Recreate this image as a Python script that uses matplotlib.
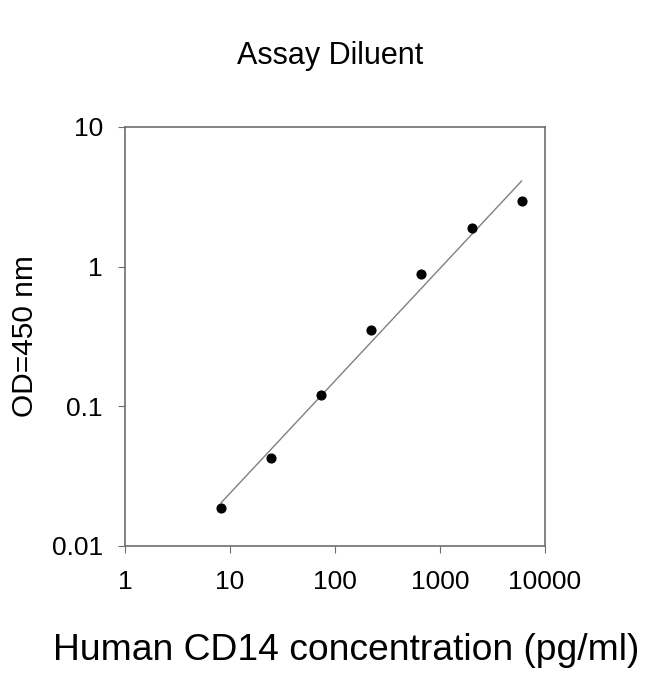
import numpy as np
import matplotlib.pyplot as plt

plt.rcParams['font.family'] = ['Liberation Sans', 'DejaVu Sans']

# Standard curve data
concentration = [8.23, 24.7, 74.1, 222, 667, 2000, 6000]
od450 = [0.0187, 0.0427, 0.121, 0.352, 0.887, 1.89, 2.95]

# Linear fit in log-log space
coef = np.polyfit(np.log10(concentration), np.log10(od450), 1)
x_fit = np.array([concentration[0], concentration[-1]])
y_fit = 10 ** np.polyval(coef, np.log10(x_fit))

fig = plt.figure(figsize=(6.5, 6.74), dpi=100)
ax = fig.add_axes([0.1923, 0.19, 0.646, 0.6217])

ax.plot(x_fit, y_fit, color='#808080', linewidth=1)
ax.plot(concentration, od450, 'o', color='black', markersize=6.3)

ax.set_xscale('log')
ax.set_yscale('log')
ax.set_xlim(1, 10000)
ax.set_ylim(0.01, 10)

ax.set_xticks([1, 10, 100, 1000, 10000])
ax.set_xticklabels(['1', '10', '100', '1000', '10000'])
ax.set_yticks([0.01, 0.1, 1, 10])
ax.set_yticklabels(['0.01', '0.1', '1', '10'])
ax.minorticks_off()

for s in ax.spines.values():
    s.set_color('#6e6e6e')
    s.set_linewidth(1.2)
ax.tick_params(direction='out', length=5, color='#6e6e6e', labelsize=19)
ax.tick_params(axis='y', pad=11)
ax.tick_params(axis='x', pad=12)

ax.set_title('Assay Diluent', fontsize=22, pad=45, x=0.488)
ax.set_xlabel('Human CD14 concentration (pg/ml)', fontsize=26.8)
ax.xaxis.set_label_coords(0.527, -0.207)
ax.set_ylabel('OD=450 nm', fontsize=21.5, labelpad=9)

fig.savefig('out.png', dpi=100)
